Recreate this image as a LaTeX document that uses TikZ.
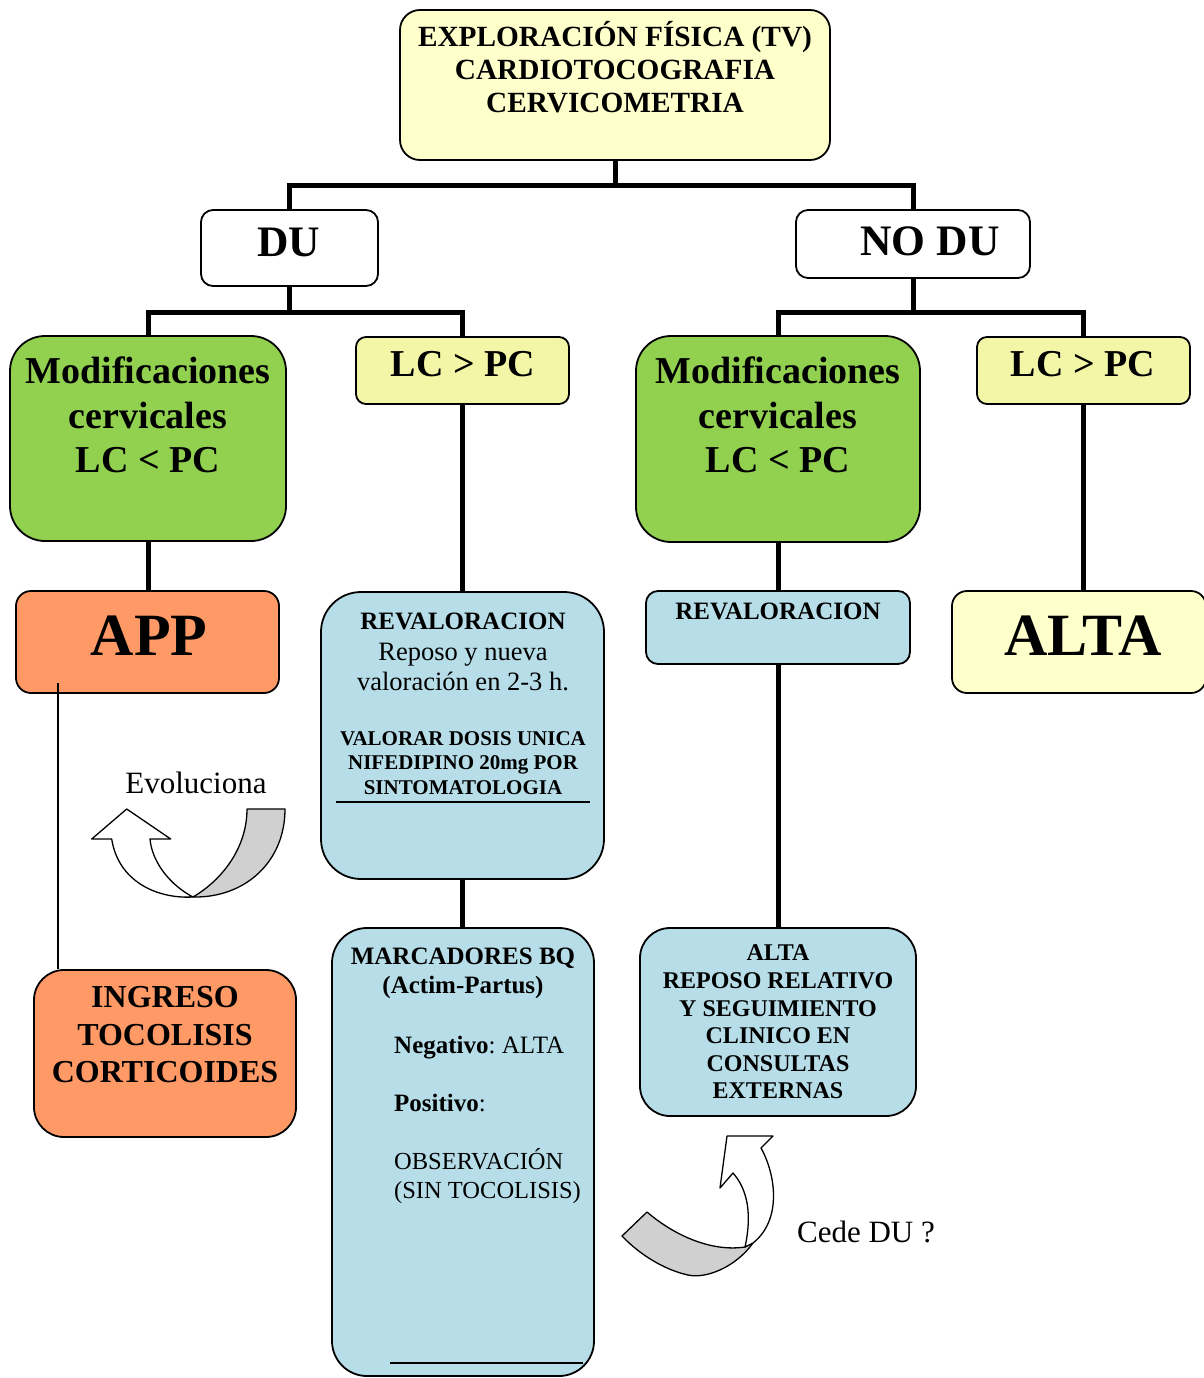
\documentclass[tikz,border=0pt]{standalone}
\usepackage{fontspec}
\setmainfont{Liberation Serif}
\definecolor{topyel}{HTML}{FFFFCC}
\definecolor{lcyel}{HTML}{F3F6A6}
\definecolor{grn}{HTML}{92D050}
\definecolor{org}{HTML}{FF9966}
\definecolor{blu}{HTML}{B7DEE8}
\definecolor{band}{HTML}{D0D0D0}
\newcommand{\fs}[2]{\fontsize{#1}{#2}\selectfont}
\begin{document}
\begin{tikzpicture}[x=1pt,y=-1pt,
  box/.style={draw, line width=1.8pt, rectangle, inner sep=0pt},
  conn/.style={line width=5pt},
  thinln/.style={line width=2pt},
  txt/.style={align=center, inner sep=0pt},
  arr/.style={draw, line width=1.3pt, line join=round}]
\useasboundingbox (0,0) rectangle (1204,1378);

% boxes
\node[box, fill=topyel, rounded corners=20, minimum width=430, minimum height=150] (top) at (615,85) {};
\node[box, fill=white, rounded corners=12, minimum width=177, minimum height=76] (du) at (289.5,248) {};
\node[box, fill=white, rounded corners=12, minimum width=234, minimum height=68] (nodu) at (913,244) {};
\node[box, fill=grn, rounded corners=35, minimum width=276, minimum height=205] (g1) at (148,438.5) {};
\node[box, fill=lcyel, rounded corners=10, minimum width=213, minimum height=67] (lc1) at (462.5,370.5) {};
\node[box, fill=grn, rounded corners=35, minimum width=284, minimum height=206] (g2) at (778,439) {};
\node[box, fill=lcyel, rounded corners=10, minimum width=213, minimum height=67] (lc2) at (1083.5,370.5) {};
\node[box, fill=org, rounded corners=15, minimum width=263, minimum height=102] (app) at (147.5,642) {};
\node[box, fill=blu, rounded corners=40, minimum width=283, minimum height=287] (rv1) at (462.5,735.5) {};
\node[box, fill=blu, rounded corners=35, minimum width=262, minimum height=448] (mk) at (463,1152) {};
\node[box, fill=blu, rounded corners=12, minimum width=264, minimum height=73] (rv2) at (778,627.5) {};
\node[box, fill=topyel, rounded corners=15, minimum width=254, minimum height=102] (alta) at (1079,642) {};
\node[box, fill=blu, rounded corners=30, minimum width=276, minimum height=188] (alta2) at (778,1022) {};
\node[box, fill=org, rounded corners=30, minimum width=262, minimum height=167] (ing) at (165,1053.5) {};

% connectors
\coordinate (j1) at (615,185);
\coordinate (j2) at (289.5,312);
\coordinate (j3) at (913,312);
\draw[conn] (top.south) -- (j1);
\draw[conn] (du.north) |- (j1) -| (nodu.north);
\draw[conn] (du.south) -- (j2);
\draw[conn] (g1.north) |- (j2) -| (lc1.north);
\draw[conn] (nodu.south) -- (j3);
\draw[conn] (g2.north) |- (j3) -| (lc2.north);
\draw[conn] (g1.south) -- (g1.south |- app.north);
\draw[conn] (lc1.south) -- (lc1.south |- rv1.north);
\draw[conn] (g2.south) -- (g2.south |- rv2.north);
\draw[conn] (lc2.south) -- (lc2.south |- alta.north);
\draw[conn] (rv1.south) -- (rv1.south |- mk.north);
\draw[conn] (rv2.south) -- (rv2.south |- alta2.north);
\coordinate (a1) at (58,683);
\draw[thinln] (a1) -- (a1 |- ing.north);

% texts
\node[txt, font=\fs{29.3}{33}\bfseries] (topT) at (615,67) {EXPLORACIÓN FÍSICA (TV)\\CARDIOTOCOGRAFIA\\CERVICOMETRIA};
\node[txt, font=\fs{43.5}{50}\bfseries] (duT) at (289,242) {DU};
\node[txt, font=\fs{43.5}{50}\bfseries] (noduT) at (930,241) {NO DU};
\node[txt, font=\fs{38}{44.5}\bfseries] (g1T) at (148,415) {Modificaciones\\cervicales\\LC < PC};
\node[txt, font=\fs{38}{44.5}\bfseries] (lc1T) at (463,364) {LC > PC};
\node[txt, font=\fs{38}{44.5}\bfseries] (g2T) at (778,415) {Modificaciones\\cervicales\\LC < PC};
\node[txt, font=\fs{38}{44.5}\bfseries] (lc2T) at (1083,364) {LC > PC};
\node[txt, font=\fs{60}{66}\bfseries] (appT) at (149,636) {APP};
\node[txt, font=\fs{60}{66}\bfseries] (altaT) at (1083,636) {ALTA};
\node[txt, font=\fs{25}{29}\bfseries] (rv1T) at (463,621) {REVALORACION};
\node[txt, font=\fs{26.5}{30}] (rv1T2) at (463,667) {Reposo y nueva\\valoración en 2-3 h.};
\node[txt, font=\fs{21}{24.5}\bfseries] (rv1T3) at (463,763) {VALORAR DOSIS UNICA\\NIFEDIPINO 20mg POR\\SINTOMATOLOGIA};
\coordinate (u1) at (336,802);
\coordinate (u2) at (590,802);
\draw[thinln] (u1) -- (u2);
\node[txt, font=\fs{25}{29}\bfseries] (mkT) at (463,973) {MARCADORES BQ\\(Actim-Partus)};
\node[inner sep=0pt, anchor=base west, font=\fs{25}{29}] (neg) at (394,1053) {\textbf{Negativo}:~ALTA};
\node[inner sep=0pt, anchor=base west, font=\fs{25}{29}] (pos) at (394,1111) {\textbf{Positivo}:};
\node[inner sep=0pt, anchor=base west, font=\fs{24.5}{29}] (obs) at (394,1169) {OBSERVACIÓN};
\node[inner sep=0pt, anchor=base west, font=\fs{24.5}{29}] (sin) at (394,1198) {(SIN TOCOLISIS)};
\coordinate (u3) at (390,1363);
\coordinate (u4) at (583,1363);
\draw[thinln] (u3) -- (u4);
\node[txt, font=\fs{25}{29}\bfseries] (rv2T) at (778,611) {REVALORACION};
\node[txt, font=\fs{24}{27.6}\bfseries] (alta2T) at (778,1022) {ALTA\\REPOSO RELATIVO\\Y SEGUIMIENTO\\CLINICO EN\\CONSULTAS\\EXTERNAS};
\node[txt, font=\fs{32}{37.5}\bfseries] (ingT) at (165,1035) {INGRESO\\TOCOLISIS\\CORTICOIDES};
\node[txt, font=\fs{31}{36}] (evol) at (196,783) {Evoluciona};
\node[txt, font=\fs{31}{36}] (cede) at (866,1232) {Cede DU ?};

% curved arrow left (Evoluciona)
\path[arr, fill=band] (247,809) -- (285,809) .. controls (285,862) and (245,898) .. (193,897)
  .. controls (222,880) and (247,848) .. (247,809) -- cycle;
\path[arr, fill=white] (111.7,839) .. controls (118,880) and (155,899) .. (193,897)
  .. controls (170,885) and (152,862) .. (150,839) -- (170.7,839) -- (126.7,809) -- (91.7,839) -- cycle;

% curved arrow right (Cede DU ?)
\path[arr, fill=band] (647,1212) .. controls (675,1236) and (712,1252) .. (745,1247) -- (753,1243)
  .. controls (735,1268) and (705,1279) .. (688,1275) .. controls (665,1270) and (640,1255) .. (622,1236) -- cycle;
\path[arr, fill=white] (745,1247) .. controls (752,1215) and (748,1190) .. (733,1173) -- (720,1188) -- (727,1136)
  -- (773,1136) -- (761,1148) .. controls (776,1175) and (782,1220) .. (753,1243) -- cycle;
\end{tikzpicture}
\end{document}
